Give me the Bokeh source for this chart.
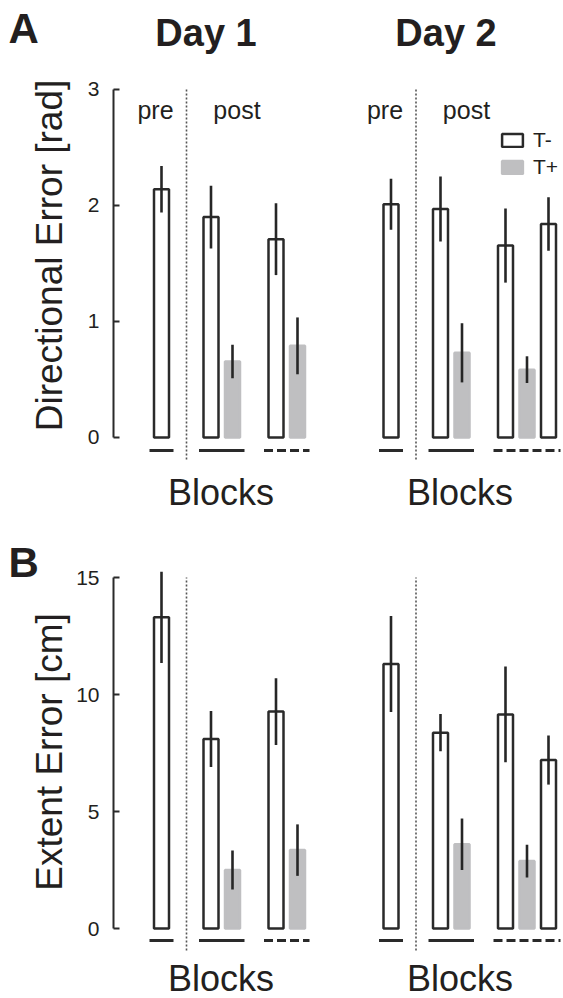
import numpy as np
import pandas as pd
from bokeh.plotting import figure
from bokeh.models import (ColumnDataSource, Range1d, FixedTicker, Label,
                          Legend, LegendItem)
from bokeh.layouts import column, row
from bokeh.embed import file_html
from bokeh.resources import INLINE

# ---------------- data ----------------
day_titles = ["Day 1", "Day 2"]
blocks_day1 = ["pre", "post1", "post1", "post2", "post2"]
cond_day1 = ["T-", "T-", "T+", "T-", "T+"]
blocks_day2 = ["pre", "post1", "post1", "post2", "post2", "post2"]
cond_day2 = ["T-", "T-", "T+", "T-", "T+", "T-"]

dir_mean_day1 = [2.14, 1.90, 0.655, 1.71, 0.79]
dir_err_day1 = [0.20, 0.27, 0.145, 0.31, 0.245]
dir_mean_day2 = [2.01, 1.97, 0.73, 1.655, 0.585, 1.84]
dir_err_day2 = [0.22, 0.28, 0.255, 0.32, 0.115, 0.23]

ext_mean_day1 = [13.3, 8.1, 2.5, 9.27, 3.35]
ext_err_day1 = [1.95, 1.2, 0.83, 1.43, 1.1]
ext_mean_day2 = [11.3, 8.37, 3.6, 9.15, 2.88, 7.2]
ext_err_day2 = [2.05, 0.8, 1.1, 2.05, 0.7, 1.05]

dir_ticks = [0, 1, 2, 3]
ext_ticks = [0, 5, 10, 15]

# ---------------- layout constants ----------------
PRE_X = 48.0
GROUP_OFF = {"pre": 0.0, "post1": 49.5, "post2": 114.5}
DAY_SHIFT = 229.5
STEP = 21.5
BAR_W = 15.0
SEG_EXT = 12.0
TITLE_OFF = [44.5, 55.0]
BLOCKS_OFF = [59.5, 69.0]
FONT = "Liberation Sans"
INK = "#231f20"
EDGE = "#2a2a2a"
GRAY = "#bfbfc1"
SIDE_W = 71          # width of the strip holding panel letter + y title
MAIN_W = 563 - SIDE_W
AXIS_BORDER = 42     # room for tick labels; frame starts at page x 113


def bar_table(blocks, conds, means, errs, day):
    rows = []
    count = {}
    for b, c, m, e in zip(blocks, conds, means, errs):
        k = count.get(b, 0)
        count[b] = k + 1
        x = PRE_X + DAY_SHIFT * day + GROUP_OFF[b] + STEP * k
        rows.append(dict(day=day, block=b, cond=c, mean=m, err=e, x=x,
                         lo=m - e, hi=m + e))
    return pd.DataFrame(rows)


def side_strip(height, letter, letter_y, ylabel, ylabel_y):
    s = figure(width=SIDE_W, height=height, output_backend="svg",
               toolbar_location=None, x_range=Range1d(0, SIDE_W),
               y_range=Range1d(height, 0), x_axis_location=None,
               y_axis_location=None, min_border=0)
    s.outline_line_color = None
    s.grid.visible = False
    s.add_layout(Label(x=8, y=letter_y, text=letter, text_font=FONT,
                       text_font_size="42px", text_font_style="bold",
                       text_color=INK, text_align="left",
                       text_baseline="alphabetic"))
    s.add_layout(Label(x=49, y=ylabel_y, text=ylabel, text_font=FONT,
                       text_font_size="37px", text_color=INK,
                       text_align="center", text_baseline="alphabetic",
                       angle=np.pi / 2))
    return s


def make_panel(means, errs, ticks, y0, y1, height, base_y, sep_bottom,
               blocks_y, title_y=None, prepost_y=None, legend_y=None):
    df = pd.concat([bar_table(blocks_day1, cond_day1, means[0], errs[0], 0),
                    bar_table(blocks_day2, cond_day2, means[1], errs[1], 1)],
                   ignore_index=True)
    p = figure(width=MAIN_W, height=height, output_backend="svg",
               toolbar_location=None,
               x_range=Range1d(0, MAIN_W - AXIS_BORDER),
               y_range=Range1d(y0, y1), x_axis_location=None,
               min_border_left=AXIS_BORDER, min_border_right=0,
               min_border_top=0, min_border_bottom=0)
    p.outline_line_color = None
    p.grid.visible = False
    p.background_fill_color = "white"
    p.border_fill_color = "white"

    ax = p.yaxis[0]
    ax.ticker = FixedTicker(ticks=ticks)
    ax.bounds = (ticks[0], ticks[-1])
    ax.axis_line_width = 2
    ax.axis_line_color = EDGE
    ax.major_tick_line_width = 2
    ax.major_tick_line_color = EDGE
    ax.major_tick_in = 6
    ax.major_tick_out = 0
    ax.minor_tick_line_color = None
    ax.major_label_text_font = FONT
    ax.major_label_text_font_size = "21px"
    ax.major_label_text_color = INK
    ax.major_label_standoff = 14

    # separators between pre and post
    sep = pd.DataFrame(dict(x=[PRE_X + 25 + DAY_SHIFT * d for d in range(2)]))
    sep["y0"] = sep_bottom
    sep["y1"] = ticks[-1]
    p.segment(x0="x", y0="y0", x1="x", y1="y1", source=ColumnDataSource(sep),
              line_color="#555555", line_width=1.6, line_dash="2 2")

    minus = df[df.cond == "T-"]
    plus = df[df.cond == "T+"]
    r_minus = p.vbar(x="x", top="mean", bottom=0, width=BAR_W,
                     source=ColumnDataSource(minus), fill_color="white",
                     line_color=EDGE, line_width=2.5)
    r_plus = p.vbar(x="x", top="mean", bottom=0, width=BAR_W,
                    source=ColumnDataSource(plus), fill_color=GRAY,
                    line_color=GRAY, line_width=2.5)
    p.segment(x0="x", y0="lo", x1="x", y1="hi", source=ColumnDataSource(df),
              line_color="#262626", line_width=2.6)

    # block underline segments
    g = df.groupby(["day", "block"]).x.agg(["min", "max"]).reset_index()
    g["x0"] = g["min"] - SEG_EXT
    g["x1"] = g["max"] + SEG_EXT
    g["y"] = base_y
    solid = g[g.block != "post2"]
    dashed = g[g.block == "post2"]
    p.segment(x0="x0", y0="y", x1="x1", y1="y", source=ColumnDataSource(solid),
              line_color=EDGE, line_width=3)
    p.segment(x0="x0", y0="y", x1="x1", y1="y", source=ColumnDataSource(dashed),
              line_color=EDGE, line_width=3, line_dash="9 4")

    def lab(x, y, text, size, bold=False):
        p.add_layout(Label(x=x, y=y, text=text, text_font=FONT,
                           text_font_size=size, text_color=INK,
                           text_font_style="bold" if bold else "normal",
                           text_align="center", text_baseline="alphabetic"))

    for d in range(2):
        lab(PRE_X + DAY_SHIFT * d + BLOCKS_OFF[d], blocks_y, "Blocks", "36px")
        if title_y is not None:
            lab(PRE_X + DAY_SHIFT * d + TITLE_OFF[d], title_y,
                day_titles[d], "38px", bold=True)
        if prepost_y is not None:
            lab(PRE_X + DAY_SHIFT * d - 6, prepost_y, "pre", "25px")
            lab(PRE_X + DAY_SHIFT * d + 75.5, prepost_y, "post", "25px")

    if legend_y is not None:
        leg = Legend(items=[LegendItem(label="T-", renderers=[r_minus]),
                            LegendItem(label="T+", renderers=[r_plus])],
                     location=(386, legend_y), glyph_width=26,
                     glyph_height=16, label_standoff=8, spacing=3, padding=0,
                     margin=0, border_line_alpha=0, background_fill_alpha=0,
                     label_text_font=FONT, label_text_font_size="21px",
                     label_text_color=INK)
        p.add_layout(leg)
    return p


# panel A: page rows 0..516, zero at 437, 116 px per rad
H_A = 516
H_B = 998 - H_A
sA = side_strip(H_A, "A", 27.5, "Directional Error [rad]", 255)
pA = make_panel([dir_mean_day1, dir_mean_day2], [dir_err_day1, dir_err_day2],
                dir_ticks, -0.681, 3.767, H_A, -0.112, -0.19, -0.474,
                title_y=3.487, prepost_y=2.819, legend_y=337)
# panel B: page rows 516..998, zero at 928, 23.4 px per cm
sB = side_strip(H_B, "B", 45.6, "Extent Error [cm]", 235.5)
pB = make_panel([ext_mean_day1, ext_mean_day2], [ext_err_day1, ext_err_day2],
                ext_ticks, -2.991, 17.607, H_B, -0.513, -0.94, -2.137)

layout = column(row(sA, pA, spacing=0), row(sB, pB, spacing=0), spacing=0)
open("out.html", "w").write(file_html(layout, INLINE))
